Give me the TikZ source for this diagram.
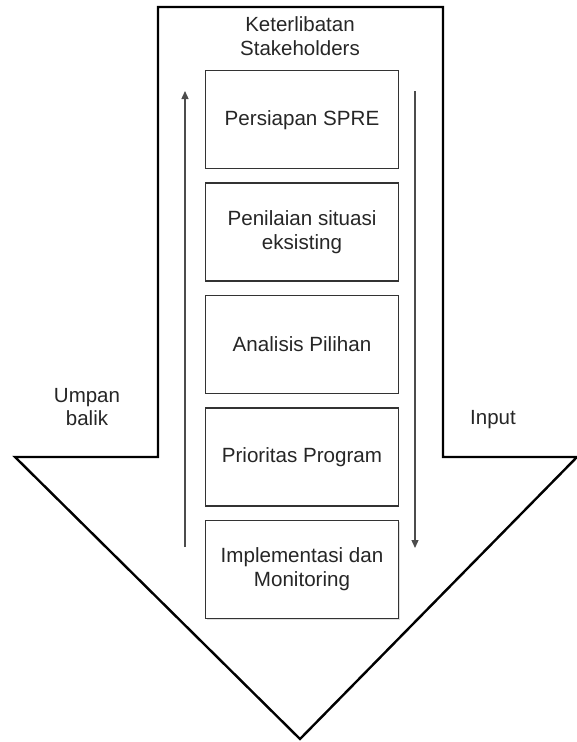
\documentclass[tikz,border=0pt]{standalone}
\usepackage{fontspec}
\setmainfont{Liberation Sans}
\usetikzlibrary{positioning,arrows.meta,shadows}

\tikzset{
  stage/.style={draw=black!80, line width=1.4pt, minimum width=193pt, minimum height=98pt,
    align=center, text=black!85, font=\fontsize{20.6}{24}\selectfont, inner sep=0pt},
  label/.style={text=black!85, align=center, font=\fontsize{20.5}{23.5}\selectfont},
  flow/.style={draw=black!70, line width=1.3pt, -{Triangle[length=8pt,width=7pt]}}
}

\begin{document}
\begin{tikzpicture}[x=1pt, y=-1pt, node distance=13pt]
\useasboundingbox (0,0) rectangle (576,742);

% big arrow
\draw[line width=2.4pt, line join=miter] (158,7) -- (443,7) -- (443,457) -- (577,457)
  -- (300,739) -- (15,457) -- (158,457) -- cycle;

\node[label] (keterlibatan) at (300,36) {Keterlibatan\\Stakeholders};
\node[label] (umpan) at (87,407) {Umpan\\balik};
\node[label] (input) at (493,420) {Input};

% stages
\node[stage, anchor=north] (persiapan) at (302,70) {Persiapan SPRE};
\node[stage, below=of persiapan] (penilaian) {Penilaian situasi\\eksisting};
\node[stage, below=of penilaian] (analisis) {Analisis Pilihan};
\node[stage, below=of analisis] (prioritas) {Prioritas Program};
\node[stage, below=of prioritas, fill=white,
  drop shadow={opacity=0.25, shadow xshift=1.5pt, shadow yshift=-1.5pt}] (implementasi)
  {Implementasi dan\\Monitoring};

\coordinate (balikbawah) at (185,547);
\coordinate (balikatas) at (185,91);
\coordinate (inputatas) at (415,91);
\coordinate (inputbawah) at (415,548);

\draw[flow] (balikbawah) -- (balikatas);
\draw[flow] (inputatas) -- (inputbawah);

\end{tikzpicture}
\end{document}
